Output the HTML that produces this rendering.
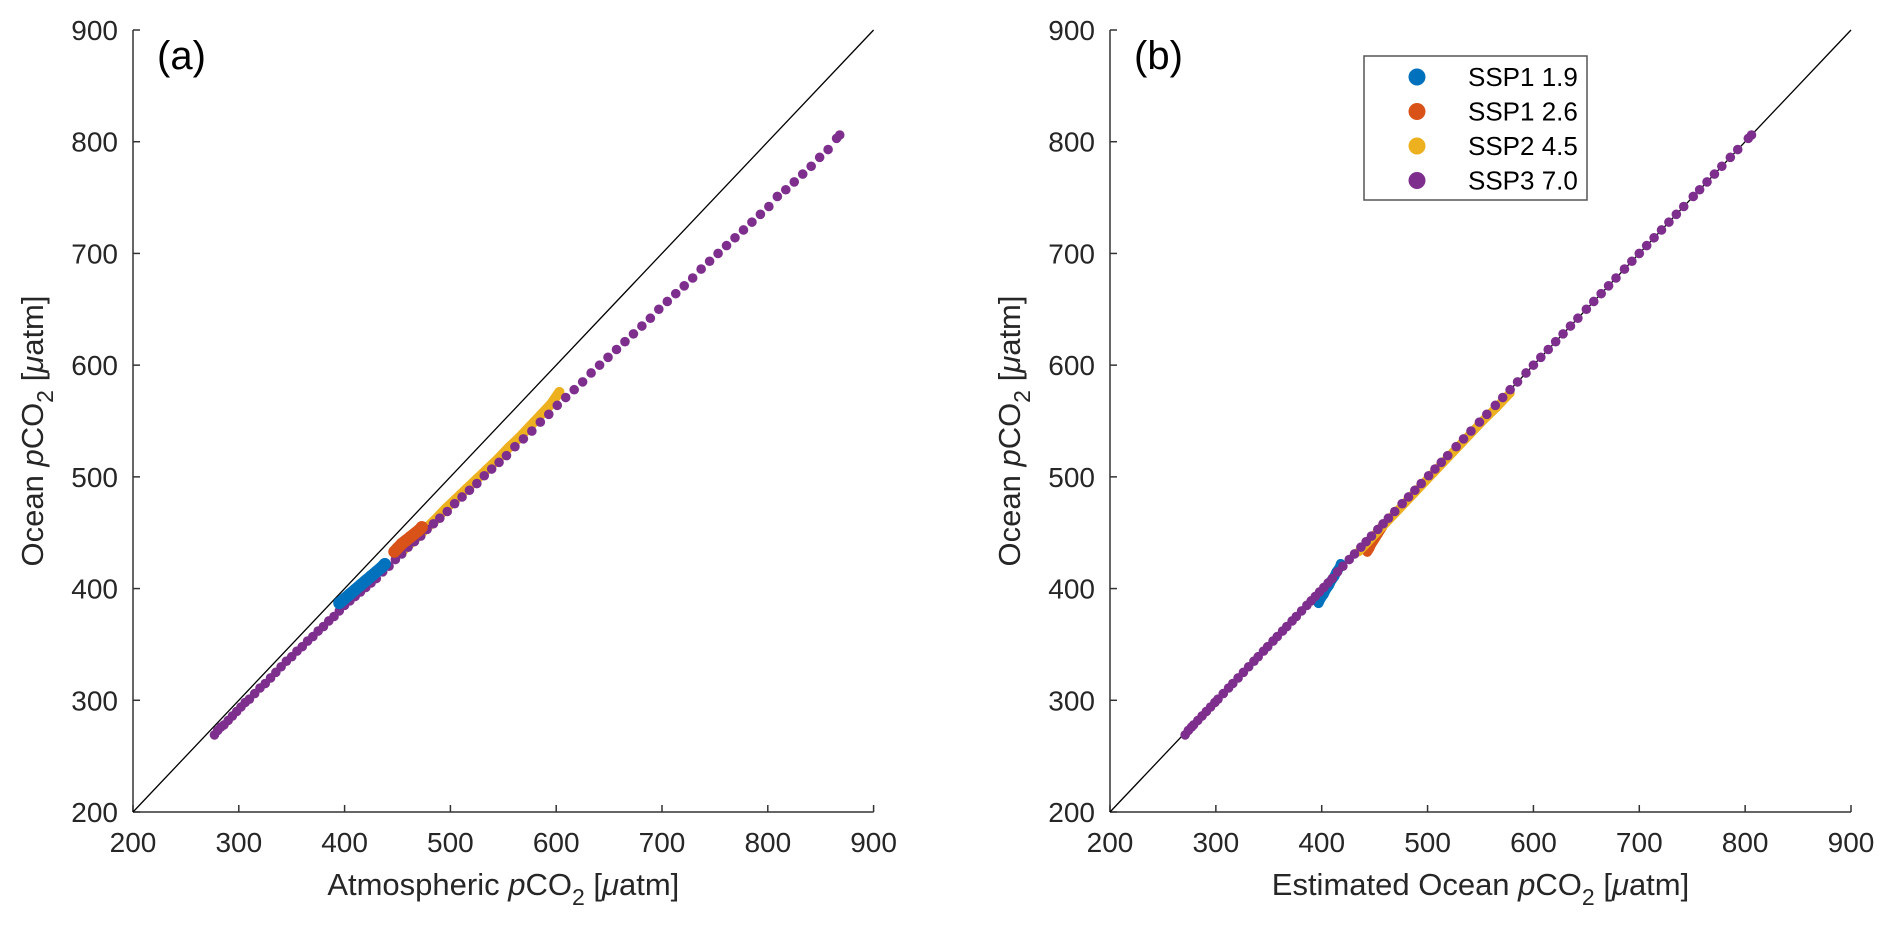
<!DOCTYPE html>
<html><head><meta charset="utf-8"><style>
html,body{margin:0;padding:0;background:#fff;}
svg{display:block;font-family:"Liberation Sans",Arial,sans-serif;}
</style></head><body>
<svg id="chart" width="1892" height="929" viewBox="0 0 1892 929">
<g id="pa"></g>
<g id="pb"></g>
<g id="legend">
  <rect x="1364" y="56" width="223" height="144" fill="#fff" stroke="#555" stroke-width="1.5"/>
</g>
</svg>
<script>
const ticks = [200,300,400,500,600,700,800,900];
const seriesNames = ["SSP1 1.9","SSP1 2.6","SSP2 4.5","SSP3 7.0"];
const seriesColors = ["#0072bd","#d95319","#edb120","#7e2f8e"];
// panel (a): atmospheric vs ocean
const blueAtm = [395,400,405,410,415,420,425,430,435,438];
const blueOcean = [387,391,395,399,403,407,411,415,419,422];
const redAtm = [447,450,454,458,462,466,470,473];
const redOcean = [433,436,440,443,446,449,452,455];
const yellowAtm = [455,465,475,485,495,505,515,525,535,545,555,565,575,585,595,603];
const yellowOcean = [434,443,452,461,471,480,489,498,507,516,526,535,545,555,565,576];
const purpleAtm = [277,280,283,286,290,294,298,302,306,310,315,320,325,330,335,340,345,350,355,360,365,370,375,380,385,390,395,400,405,410,415,420,425,430,436,442,448,454,460,466,472,478,484,490,497,504,511,518,525,532,539,546,553,561,569,577,585,593,601,609,617,625,633,641,649,657,665,673,681,689,697,705,713,721,729,737,745,753,761,769,777,785,793,801,809,817,825,833,841,849,857,865,868];
const purpleOcean = [269,273,276,278,282,286,290,294,298,301,306,311,315,320,325,330,335,339,344,348,353,357,362,366,371,375,380,385,389,393,397,401,405,409,415,420,426,431,437,442,447,453,458,463,469,476,482,488,494,501,507,513,519,527,534,541,549,556,564,571,578,585,593,600,607,614,621,628,635,642,650,657,664,671,678,686,693,700,707,714,721,728,735,742,751,757,764,771,778,786,793,803,806];
// panel (b): estimated ocean vs ocean
const blueEst = [397,399,402,404,407,409,412,414,417,418];
const redEst = [443,445,447,449,451,453,455,457];
const yellowEst = [435,443,452,461,470,479,488,497,506,515,524,533,543,553,565,578];
const yellowOceanB = [433,441,450,459,468,477,486,495,504,513,522,531,541,551,562,575];
const purpleEst = [271,274,277,279,283,287,291,295,299,302,307,312,316,321,326,331,336,340,345,349,354,358,363,367,372,376,381,386,390,394,398,402,406,410,415,420,426,431,437,442,447,453,458,463,469,476,482,488,494,501,507,513,519,527,534,541,549,556,564,571,578,585,593,600,607,614,621,628,635,642,650,657,664,671,678,686,693,700,707,714,721,728,735,742,751,757,764,771,778,786,793,803,806];

const NS="http://www.w3.org/2000/svg";
function mk(tag,attrs,parent){const e=document.createElementNS(NS,tag);for(const k in attrs)e.setAttribute(k,attrs[k]);parent.appendChild(e);return e;}
const Y0=812, Y1=30;
function makePanel(g,X0,X1,label,xtitle,sets){
  const sx=v=>X0+(v-200)/700*(X1-X0);
  const sy=v=>Y0-(v-200)/700*(Y0-Y1);
  let l=mk('line',{x1:X0,y1:Y0,x2:X1,y2:Y0,stroke:'#333','stroke-width':1.5},g);
  
  
  l=mk('line',{x1:X0,y1:Y0,x2:X0,y2:Y1,stroke:'#333','stroke-width':1.5},g);
  
  
  ticks.forEach(t=>{
    let a=mk('line',{x1:sx(t),y1:Y0,x2:sx(t),y2:Y0-7,stroke:'#333','stroke-width':1.5},g);
    
    
    let b=mk('line',{x1:X0,y1:sy(t),x2:X0+7,y2:sy(t),stroke:'#333','stroke-width':1.5},g);
    
    
    let tx=mk('text',{x:sx(t),y:Y0+40,'text-anchor':'middle','font-size':28,fill:'#262626'},g);tx.textContent=t;
    
    
    let ty=mk('text',{x:X0-15,y:sy(t)+10,'text-anchor':'end','font-size':28,fill:'#262626'},g);ty.textContent=t;
    
    
  });
  let d=mk('line',{x1:sx(200),y1:sy(200),x2:sx(900),y2:sy(900),stroke:'#000','stroke-width':1.3},g);
  
  
  let lab=mk('text',{x:X0+24,y:69,'font-size':40,fill:'#000'},g);lab.textContent=label;
  
  
  let xt=mk('text',{x:(X0+X1)/2,y:895,'text-anchor':'middle','font-size':31,fill:'#262626'},g);
  xt.innerHTML=xtitle+' <tspan font-style="italic">p</tspan>CO<tspan dy="10" font-size="23">2</tspan><tspan dy="-10"> [</tspan><tspan font-style="italic">μ</tspan>atm]';
  
  
  let yt=mk('text',{x:0,y:0,'text-anchor':'middle','font-size':31,fill:'#262626',transform:`translate(${X0-90},${431}) rotate(-90)`},g);
  yt.innerHTML='Ocean <tspan font-style="italic">p</tspan>CO<tspan dy="10" font-size="23">2</tspan><tspan dy="-10"> [</tspan><tspan font-style="italic">μ</tspan>atm]';
  
  
  sets.forEach(s=>{
    const sg=mk('g',{},g);
    
    
    if(s.thick){
      const p=mk('path',{d:s.xs.map((v,i)=>(i?'L':'M')+sx(v)+' '+sy(s.ys[i])).join(''),stroke:s.c,'stroke-width':s.r*2,fill:'none','stroke-linecap':'round','stroke-linejoin':'round'},sg);
      
      
    }
    s.xs.forEach((v,i)=>{
      const c=mk('circle',{cx:sx(v),cy:sy(s.ys[i]),r:s.r,fill:s.c},sg);
      
      
    });
  });
}
makePanel(document.getElementById('pa'),133,873.6,'(a)','Atmospheric',[
 {key:'ssp245',xs:yellowAtm,ys:yellowOcean,c:seriesColors[2],r:5,thick:true},
 {key:'ssp370',xs:purpleAtm,ys:purpleOcean,c:seriesColors[3],r:4.8},
 {key:'ssp126',xs:redAtm,ys:redOcean,c:seriesColors[1],r:6,thick:true},
 {key:'ssp119',xs:blueAtm,ys:blueOcean,c:seriesColors[0],r:6,thick:true}
]);
makePanel(document.getElementById('pb'),1110,1851,'(b)','Estimated Ocean',[
 {key:'ssp119',xs:blueEst,ys:blueOcean,c:seriesColors[0],r:5,thick:true},
 {key:'ssp126',xs:redEst,ys:redOcean,c:seriesColors[1],r:5,thick:true},
 {key:'ssp245',xs:yellowEst,ys:yellowOceanB,c:seriesColors[2],r:4.5,thick:true},
 {key:'ssp370',xs:purpleEst,ys:purpleOcean,c:seriesColors[3],r:4.8}
]);
const lg=document.getElementById('legend');
seriesNames.forEach((n,i)=>{
  const y=77+i*34.5;
  const c=mk('circle',{cx:1417,cy:y,r:8.5,fill:seriesColors[i]},lg);
  
  
  const t=mk('text',{x:1468,y:y+9,'font-size':26,fill:'#000'},lg);t.textContent=n;
  
  
});
</script>
</body></html>
